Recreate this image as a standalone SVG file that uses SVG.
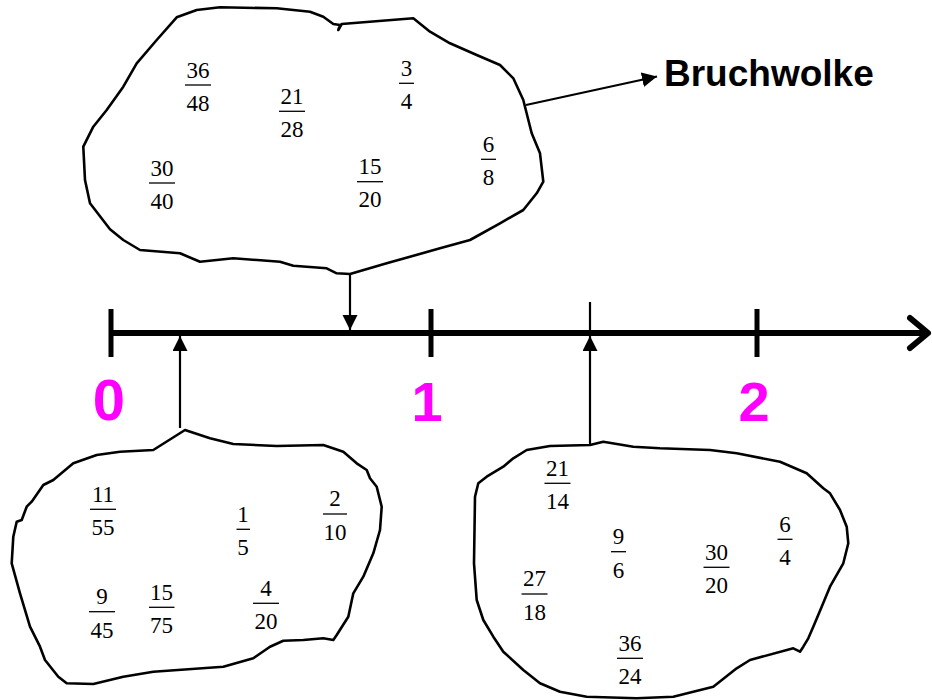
<svg xmlns="http://www.w3.org/2000/svg" width="932" height="700" viewBox="0 0 932 700">
  <style>
    .cloud { fill: #ffffff; stroke: #000000; stroke-width: 2.6; stroke-linejoin: round; stroke-linecap: round; }
    .fr text { font-family: "Liberation Serif", "Times New Roman", serif; font-size: 23px; text-anchor: middle; fill: #000000; }
    .fr line { stroke: #000000; stroke-width: 1.3; }
    .axis { stroke: #000000; stroke-width: 6; fill: none; }
    .tick { stroke: #000000; stroke-width: 5; }
    .num-label { font-family: "Liberation Sans", Arial, sans-serif; font-weight: bold; fill: #ff00ff; text-anchor: middle; }
    .conn { stroke: #000000; stroke-width: 2.2; fill: none; marker-end: url(#head); }
    .title { font-family: "Liberation Sans", Arial, sans-serif; font-weight: bold; font-size: 37px; fill: #000000; }
  </style>
  <defs>
    <marker id="head" markerUnits="userSpaceOnUse" markerWidth="16" markerHeight="16" refX="15" refY="7.5" orient="auto">
      <path d="M0,0 L15,7.5 L0,15 z" fill="#000000"/>
    </marker>
  </defs>

  <rect width="932" height="700" fill="#ffffff"/>

  <!-- number line -->
  <g id="axis">
    <line class="axis" x1="110" y1="333" x2="926" y2="333"/>
    <polyline class="axis" points="910,318 928,333 910,348" stroke-linecap="round" stroke-linejoin="round"/>
    <line class="tick" x1="111" y1="309" x2="111" y2="357"/>
    <line class="tick" x1="431" y1="309" x2="431" y2="357"/>
    <line class="tick" x1="757" y1="309" x2="757" y2="357"/>
    <line x1="590" y1="302" x2="590" y2="336" stroke="#000000" stroke-width="2.2"/>
    <text class="num-label" x="109" y="420" font-size="58">0</text>
    <text class="num-label" x="427" y="421" font-size="56">1</text>
    <text class="num-label" x="754" y="421" font-size="56">2</text>
  </g>

  <!-- cloud of fractions equal to 3/4 -->
  <g id="cloud-top">
    <path class="cloud" d="M176.7,17.3 L196.7,10 L220,7.3 L276.7,8.3 L310,11.7 L323.3,16.7 L333.3,24 L340,25 L338.3,30 L341.7,24 L413.3,18.3 L430,31.7 L450,43.3 L476.7,55 L500,65 L513.3,78.3 L523.3,100 L525,106.7 L531.7,133.3 L540,153.3 L543.3,181.7 L536.7,193.3 L523.3,210 L500,223.3 L470,240 L440,248.3 L386.7,263.3 L350,274 L336.7,273.3 L326.7,268.3 L293.3,265.7 L280,261.7 L233.3,258.3 L200,261.7 L180,253.3 L140,250 L123.3,240 L110,229.3 L90,203.3 L85,180 L83.3,146.7 L93.3,126.7 L106.7,110 L123.3,86.7 L136.7,63.3 L156.7,40 Z"/>
    <g class="fr"><text x="198" y="77.5">36</text><line x1="185" y1="85" x2="211" y2="85"/><text x="198" y="110.5">48</text></g>
    <g class="fr"><text x="292" y="104">21</text><line x1="279" y1="111.3" x2="305" y2="111.3"/><text x="292" y="137">28</text></g>
    <g class="fr"><text x="406.5" y="76">3</text><line x1="399" y1="83.3" x2="414" y2="83.3"/><text x="406.5" y="109">4</text></g>
    <g class="fr"><text x="162" y="175.5">30</text><line x1="149" y1="183" x2="175" y2="183"/><text x="162" y="208.5">40</text></g>
    <g class="fr"><text x="370" y="174">15</text><line x1="357" y1="181.7" x2="383" y2="181.7"/><text x="370" y="207">20</text></g>
    <g class="fr"><text x="488.5" y="152">6</text><line x1="481" y1="159.3" x2="496" y2="159.3"/><text x="488.5" y="185">8</text></g>
  </g>

  <!-- cloud of fractions equal to 1/5 -->
  <g id="cloud-left">
    <path class="cloud" d="M185,430 L210,438.3 L233.3,444 L276.7,446 L323.3,445 L343.3,451.7 L356.7,463.3 L366.7,470 L370,478.3 L376.7,486.7 L381.7,506.7 L380,530 L373.3,553.3 L363.3,576.7 L353.3,593.3 L348.3,616.7 L336.7,635 L333.3,640 L323.3,638.3 L303.3,640 L283.3,640.7 L270,646.7 L253.3,658.3 L223.3,666.7 L153.3,671.7 L123.3,676.7 L93.3,684 L66.7,683.3 L58.3,676.7 L45,660 L40,646.7 L30,626.7 L20,593.3 L11.7,563.3 L13.3,536.7 L16.7,521.7 L21.7,520 L26.7,506.7 L31.7,501.7 L43.3,485 L53.3,480 L73.3,463.3 L96.7,455 L120,451.7 L153.3,450 Z"/>
    <g class="fr"><text x="103" y="501.5">11</text><line x1="90" y1="509.3" x2="116" y2="509.3"/><text x="103" y="535">55</text></g>
    <g class="fr"><text x="243" y="521.5">1</text><line x1="236.5" y1="529.3" x2="250" y2="529.3"/><text x="243" y="555">5</text></g>
    <g class="fr"><text x="335" y="506">2</text><line x1="323" y1="514" x2="347" y2="514"/><text x="335" y="540">10</text></g>
    <g class="fr"><text x="102" y="604">9</text><line x1="89" y1="611.7" x2="115" y2="611.7"/><text x="102" y="637.5">45</text></g>
    <g class="fr"><text x="161.5" y="599.5">15</text><line x1="149" y1="607.3" x2="174.5" y2="607.3"/><text x="161.5" y="633">75</text></g>
    <g class="fr"><text x="266" y="595.5">4</text><line x1="253" y1="603.3" x2="279" y2="603.3"/><text x="266" y="629">20</text></g>
  </g>

  <!-- cloud of fractions equal to 3/2 -->
  <g id="cloud-right">
    <path class="cloud" d="M590,445 L603.3,441.7 L633.3,446.7 L660,448.3 L710,450 L736.7,453.3 L780,461.7 L806.7,473.3 L823.3,488.3 L830,493.3 L840,510 L846.7,526.7 L848.3,543.3 L843.3,563.3 L830,586.7 L821.7,606.7 L813.3,626.7 L808.3,638.3 L803.3,646.7 L800,651.7 L793.3,648.3 L750,660 L736.7,668.3 L713.3,686.7 L673.3,696.7 L636.7,698.3 L586.7,696.7 L560,691.7 L540,683.3 L523.3,670 L503.3,651.7 L493.3,636.7 L483.3,620 L476.7,600 L474,563.3 L475,496.7 L478.3,483.3 L486.7,476.7 L503.3,466.7 L513.3,458.3 L526.7,450 L550,446 Z"/>
    <g class="fr"><text x="557.5" y="475.5">21</text><line x1="544.5" y1="483.3" x2="570.5" y2="483.3"/><text x="557.5" y="509">14</text></g>
    <g class="fr"><text x="618.5" y="544">9</text><line x1="611" y1="551.7" x2="626" y2="551.7"/><text x="618.5" y="577.5">6</text></g>
    <g class="fr"><text x="716.5" y="559.5">30</text><line x1="703.5" y1="567.3" x2="729.5" y2="567.3"/><text x="716.5" y="593">20</text></g>
    <g class="fr"><text x="785" y="531.5">6</text><line x1="777.5" y1="539.3" x2="792.5" y2="539.3"/><text x="785" y="565">4</text></g>
    <g class="fr"><text x="534.5" y="586">27</text><line x1="521.5" y1="594" x2="547.5" y2="594"/><text x="534.5" y="620">18</text></g>
    <g class="fr"><text x="630" y="650.5">36</text><line x1="617" y1="658.3" x2="643" y2="658.3"/><text x="630" y="684">24</text></g>
  </g>

  <g id="label-bruchwolke">
    <text class="title" x="664" y="86">Bruchwolke</text>
  </g>

  <!-- connectors -->
  <g id="connectors">
    <path class="conn" d="M526,105 L657,76.5"/>
    <path class="conn" d="M350,274 L350,330"/>
    <path class="conn" d="M180,428 L180,336"/>
    <path class="conn" d="M590,445 L590,336"/>
  </g>
</svg>
